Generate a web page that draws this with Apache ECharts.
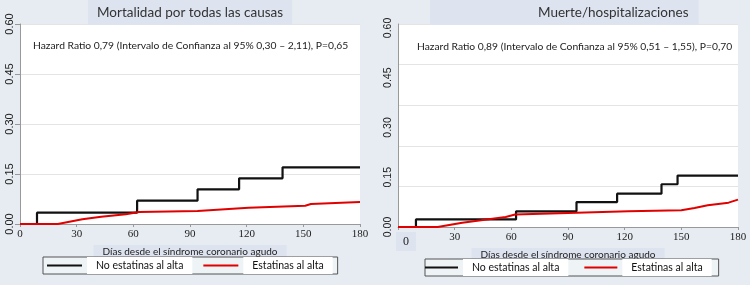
<!DOCTYPE html>
<html>
<head>
<meta charset="utf-8">
<script src="https://cdn.jsdelivr.net/npm/echarts@6/dist/echarts.min.js"></script>
<style>
  html, body { margin: 0; padding: 0; background: #e6ecf1; }
  #chart { width: 750px; height: 285px; }
</style>
</head>
<body>
<div id="chart"></div>
<script>
// datos (dias, incidencia acumulada)
var xTicks = [0, 30, 60, 90, 120, 150, 180];
var yTicks = [0, 0.15, 0.3, 0.45, 0.6];

// panel izquierdo: mortalidad por todas las causas
var daysNoEstLeft = [0, 9, 62, 94, 116, 139, 180];
var valsNoEstLeft = [0, 0.034, 0.07, 0.104, 0.137, 0.17, 0.17];
var daysEstLeft = [0, 20, 33, 43, 56, 63, 94, 121, 151, 154, 180];
var valsEstLeft = [0, 0, 0.014, 0.022, 0.029, 0.036, 0.039, 0.049, 0.055, 0.06, 0.066];

// panel derecho: muerte/hospitalizaciones
var daysNoEstRight = [0, 9.5, 62.5, 94.5, 116, 139.5, 148, 180];
var valsNoEstRight = [0, 0.028, 0.058, 0.092, 0.123, 0.158, 0.19, 0.19];
var daysEstRight = [0, 21, 34, 44, 57, 62, 90, 122, 150, 157, 164, 175, 180];
var valsEstRight = [0, 0, 0.016, 0.025, 0.037, 0.046, 0.052, 0.058, 0.062, 0.07, 0.08, 0.09, 0.101];

var titles = ["Mortalidad por todas las causas", "Muerte/hospitalizaciones"];
var hazardTexts = [
  "Hazard Ratio 0,79 (Intervalo de Confianza al 95% 0,30 \u2013 2,11), P=0,65",
  "Hazard Ratio 0,89 (Intervalo de Confianza al 95% 0,51 \u2013 1,55), P=0,70"
];
var xName = "Días desde el síndrome coronario agudo";
var seriesNames = ["No estatinas al alta", "Estatinas al alta"];

var calibri = "Lato, sans-serif";
var lavender = "#dde3ef";

function pairs(xs, ys) {
  return xs.map(function (x, i) { return [x, ys[i]]; });
}

function makeX(gridIndex, boxZero) {
  return {
    type: "value",
    gridIndex: gridIndex,
    min: 0,
    max: 180,
    interval: 30,
    name: xName,
    nameLocation: "middle",
    nameGap: 21,
    nameMoveOverlap: false,
    nameTextStyle: {
      fontFamily: calibri,
      fontSize: 10,
      color: "#222",
      backgroundColor: lavender,
      padding: [2, 9, 1, 9],
    },
    axisLine: { lineStyle: { color: "#999" } },
    axisTick: { length: 3, lineStyle: { color: "#999" } },
    axisLabel: {
      margin: 5,
      fontFamily: "'Liberation Serif', serif",
      fontSize: 11,
      color: "#222",
      formatter: function (v) {
        if (boxZero && v === 0) return "{s|}{z|0}";
        return xTicks.indexOf(v) >= 0 ? String(v) : "";
      },
      rich: {
        s: { width: 16 },
        z: {
          fontFamily: "'Liberation Serif', serif",
          fontSize: 12,
          color: "#222",
          backgroundColor: lavender,
          padding: [4, 7, 3, 7],
        },
      },
    },
    splitLine: { show: false },
  };
}

var yLabel = {
  rotate: 90,
  margin: 5,
  fontFamily: "'Liberation Sans', Arial, sans-serif",
  fontSize: 11,
  color: "#222",
  formatter: function (v) {
    return yTicks.indexOf(Math.round(v * 100) / 100) >= 0 ? v.toFixed(2) : "";
  },
};

function lineSeries(name, color, xi, yi, data, step) {
  return {
    name: name,
    type: "line",
    xAxisIndex: xi,
    yAxisIndex: yi,
    step: step ? "end" : false,
    symbol: "none",
    color: color,
    lineStyle: { color: color, width: step ? 2.2 : 2 },
    data: data,
    z: step ? 3 : 4,
  };
}

var myChart = echarts.init(document.getElementById("chart"));

var legendBase = {
  orient: "horizontal",
  icon: "rect",
  itemHeight: 2,
  width: 330,
  borderColor: "#555",
  borderWidth: 1,
  backgroundColor: "#eef3f6",
  data: seriesNames,
  textStyle: {
    fontFamily: calibri,
    fontSize: 10.5,
    color: "#111",
    backgroundColor: "#fff",
    padding: [3, 9],
  },
};

var option = {
  backgroundColor: "#e6ecf1",
  animation: false,
  title: [
    {
      text: titles[0], left: 88, top: 0,
      backgroundColor: lavender, padding: [6, 9, 5, 9],
      textStyle: { fontFamily: calibri, fontSize: 13.5, fontWeight: "normal", color: "#333" },
    },
    {
      text: titles[1], left: 430, top: 0,
      backgroundColor: lavender, padding: [6, 10, 5, 108],
      textStyle: { fontFamily: calibri, fontSize: 13.5, fontWeight: "normal", color: "#333" },
    },
    {
      text: hazardTexts[0], left: 33, top: 41, padding: 0,
      textStyle: { fontFamily: calibri, fontSize: 10.3, fontWeight: "normal", color: "#222" },
    },
    {
      text: hazardTexts[1], left: 417, top: 42, padding: 0,
      textStyle: { fontFamily: calibri, fontSize: 10.3, fontWeight: "normal", color: "#222" },
    },
  ],
  legend: [
    Object.assign({}, legendBase, { left: 43, top: 257, padding: [0, 5, 0, 4], itemGap: 11, itemWidth: 35 }),
    Object.assign({}, legendBase, { left: 425, top: 259, padding: [0, 7, 0, 0], itemGap: 16, itemWidth: 33 }),
  ],
  grid: [
    { left: 20, top: 24, width: 340, height: 200, show: true, backgroundColor: "#fff", borderWidth: 0 },
    { left: 398, top: 24, width: 340, height: 203, show: true, backgroundColor: "#fff", borderWidth: 0 },
  ],
  xAxis: [makeX(0, false), makeX(1, true)],
  yAxis: [
    {
      type: "value", gridIndex: 0, min: 0, max: 0.6, interval: 0.15,
      axisLine: { show: true, lineStyle: { color: "#999" } },
      axisTick: { show: true, length: 5, lineStyle: { color: "#999" } },
      axisLabel: yLabel,
      splitLine: { lineStyle: { color: "#e4e4e4" } },
    },
    {
      // escala de la rejilla del panel derecho
      type: "value", gridIndex: 1, position: "left", min: 0, max: 0.75, interval: 0.15,
      axisLine: { show: true, lineStyle: { color: "#999" } },
      axisTick: { show: false },
      axisLabel: { show: false },
      splitLine: { lineStyle: { color: "#e4e4e4" } },
    },
    {
      // etiquetas del panel derecho
      type: "value", gridIndex: 1, position: "left", offset: 0, min: 0, max: 0.612, interval: 0.15,
      axisLine: { show: false },
      axisTick: { show: false },
      axisLabel: Object.assign({}, yLabel, { margin: 4, fontSize: 10.5, showMaxLabel: false }),
      splitLine: { show: false },
    },
  ],
  series: [
    lineSeries(seriesNames[0], "#111", 0, 0, pairs(daysNoEstLeft, valsNoEstLeft), true),
    lineSeries(seriesNames[1], "#e00000", 0, 0, pairs(daysEstLeft, valsEstLeft), false),
    lineSeries(seriesNames[0], "#111", 1, 1, pairs(daysNoEstRight, valsNoEstRight), true),
    lineSeries(seriesNames[1], "#e00000", 1, 1, pairs(daysEstRight, valsEstRight), false),
  ],
};

myChart.setOption(option);
</script>
</body>
</html>
